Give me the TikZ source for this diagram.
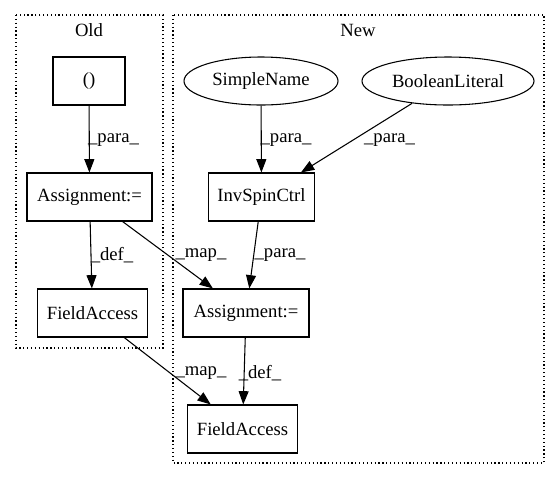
\documentclass[tikz,border=0pt]{standalone}
\usepackage{fontspec}
\setmainfont{Liberation Serif}
\usetikzlibrary{arrows.meta,shapes.geometric}
\begin{document}
\begin{tikzpicture}[x=0.75pt,y=-0.75pt,
  every node/.style={font=\fontsize{14pt}{16pt}\selectfont},
  box/.style={draw,line width=0.8pt,rectangle,inner sep=0pt,minimum height=36pt},
  oval/.style={draw,line width=0.8pt,ellipse,inner sep=0pt,minimum height=36pt},
  lbl/.style={inner sep=0pt},
  cluster/.style={draw,dotted,line width=0.9pt},
  edge/.style={draw,line width=0.8pt,-{Triangle[length=10pt,width=7.5pt]}}]
\useasboundingbox (0,0) rectangle (560,480);
% clusters
\draw[cluster] (16,15) rectangle (163,348);
\draw[cluster] (173,15) rectangle (544,463);
\node[lbl] (oldlbl) at (89,30) {Old};
\node[lbl] (newlbl) at (358,30) {New};
% nodes
\node[box,minimum width=54pt] (paren) at (89,81) {()};
\node[box,minimum width=93.75pt] (aold) at (89.5,197) {Assignment:=};
\node[box,minimum width=83pt] (fold) at (92.5,313) {FieldAccess};
\node[oval,minimum width=115.5pt] (sname) at (261,81) {SimpleName};
\node[oval,minimum width=129pt] (blit) at (448,81) {BooleanLiteral};
\node[box,minimum width=80pt] (inv) at (261.5,197) {InvSpinCtrl};
\node[box,minimum width=94.5pt] (anew) at (246,313) {Assignment:=};
\node[box,minimum width=83pt] (fnew) at (242.5,429) {FieldAccess};
% edges
\path[edge] (paren) -- (aold);
\path[edge] (aold) -- (fold);
\path[edge] (aold) -- (anew);
\path[edge] (fold) -- (fnew);
\path[edge] (sname) -- (inv);
\path[edge] (blit) -- (inv);
\path[edge] (inv) -- (anew);
\path[edge] (anew) -- (fnew);
% labels
\node[lbl] (l1) at (113.5,140) {\_para\_};
\node[lbl] (l2) at (112,255) {\_def\_};
\node[lbl] (l3) at (201,255) {\_map\_};
\node[lbl] (l4) at (201,373) {\_map\_};
\node[lbl] (l5) at (286,140) {\_para\_};
\node[lbl] (l6) at (389.5,140) {\_para\_};
\node[lbl] (l7) at (280,255) {\_para\_};
\node[lbl] (l8) at (260,373) {\_def\_};
\end{tikzpicture}
\end{document}
